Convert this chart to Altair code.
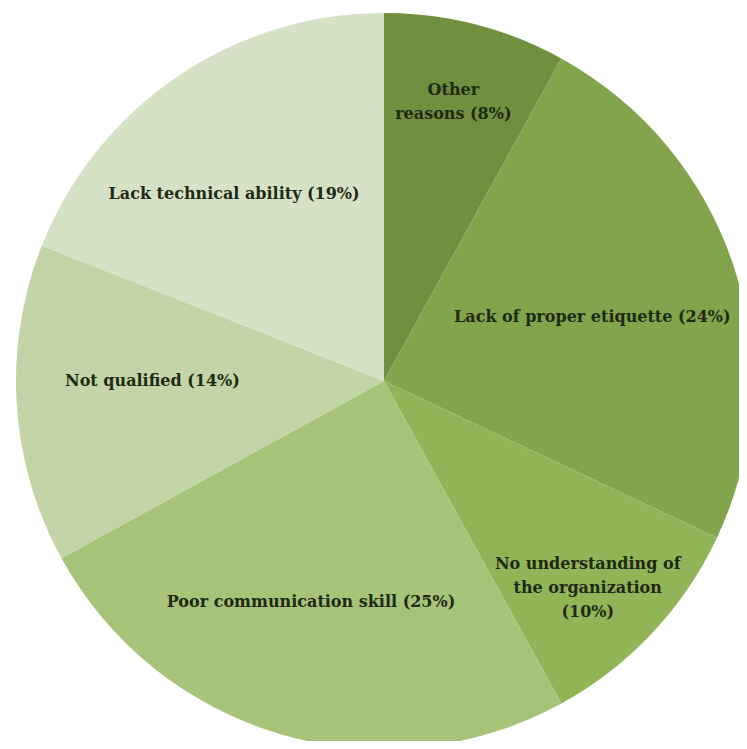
import altair as alt
import pandas as pd

categories = [
    "Other reasons",
    "Lack of proper etiquette",
    "No understanding of the organization",
    "Poor communication skill",
    "Not qualified",
    "Lack technical ability",
]
shares = [8, 24, 10, 25, 14, 19]
labels = [
    "Other\nreasons (8%)",
    "Lack of proper etiquette (24%)",
    "No understanding of\nthe organization\n(10%)",
    "Poor communication skill (25%)",
    "Not qualified (14%)",
    "Lack technical ability (19%)",
]
colors = ["#718f3e", "#82a44b", "#91b457", "#a7c379", "#c3d5a6", "#d6e2c6"]

df = pd.DataFrame({
    "category": categories,
    "value": shares,
    "label": labels,
    "order": list(range(len(categories))),
})

# label placement styles: (radius, dx, dy)
label_style = {
    "Other reasons": (299, -5, -1),
    "Lack of proper etiquette": (218, 1, 3),
    "No understanding of the organization": (274, 4, -5),
    "Poor communication skill": (233, -8, -3),
    "Not qualified": (232, 0, -15),
    "Lack technical ability": (240, -15, 11),
}

theta_scale = alt.Scale(domain=[0, 100])
base = alt.Chart(df)

arcs = base.mark_arc(outerRadius=368).encode(
    theta=alt.Theta("value:Q", stack=True, scale=theta_scale),
    color=alt.Color("category:N", scale=alt.Scale(domain=categories, range=colors), legend=None),
    order=alt.Order("order:Q", sort="ascending"),
)

layers = [arcs]
for cat in categories:
    r, dx, dy = label_style[cat]
    t = (
        base.transform_window(cum="sum(value)", sort=[alt.SortField("order")], frame=[None, 0])
        .transform_calculate(mid="datum.cum - datum.value / 2")
        .transform_filter(alt.datum.category == cat)
        .mark_text(
            radius=r, dx=dx, dy=dy, lineBreak="\n", lineHeight=24,
            font="DejaVu Serif", fontWeight="bold", fontSize=16,
            color="#1f2a14", align="center", baseline="middle",
        )
        .encode(
            theta=alt.Theta("mid:Q", stack=False, scale=theta_scale),
            text="label:N",
        )
    )
    layers.append(t)

chart = alt.layer(*layers).properties(
    width=710,
    height=720,
    autosize="none",
    padding={"left": 21, "top": 13, "right": 0, "bottom": 0},
    background="white",
).configure_view(stroke=None)

chart.save("out.html", embed_options={"renderer": "svg", "actions": False})
